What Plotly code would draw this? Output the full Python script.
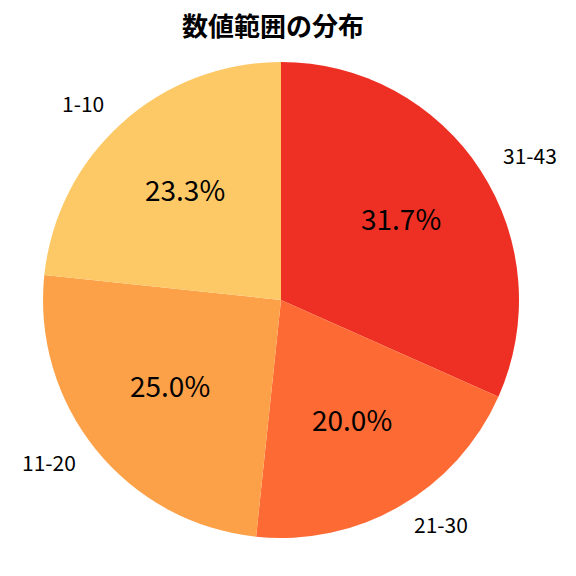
import plotly.graph_objs as go
import numpy as np

# value ranges and how many numbers fell into each
labels = ['31-43', '21-30', '11-20', '1-10']
counts = [19, 12, 15, 14]
colors = ['#EE3024', '#FD6A33', '#FCA148', '#FDC966']

W = H = 576
off = 8  # page body margin
cx, cy, r = 281 - off, 300 - off, 238  # pie centre / radius in pixels

fig = go.Figure()

fig.add_trace(go.Pie(
    labels=labels,
    values=counts,
    sort=False,
    direction='clockwise',
    rotation=0,
    textinfo='none',
    hoverinfo='label+percent',
    marker=dict(colors=colors, line=dict(width=0)),
    domain=dict(x=[(cx - r) / W, (cx + r) / W], y=[1 - (cy + r) / H, 1 - (cy - r) / H]),
    showlegend=False,
))

# label + percentage annotations, matplotlib-style (1.1 r outside, 0.6 r inside)
total = sum(counts)
start = 90.0
annotations = []
for lab, c in zip(labels, counts):
    span = c / total * 360
    mid = np.radians(start - span / 2)
    start -= span
    dx, dy = np.cos(mid), np.sin(mid)
    lx, ly = cx + 1.1 * r * dx, cy - 1.1 * r * dy - 2.5
    annotations.append(dict(
        x=lx / W, y=1 - ly / H, xref='paper', yref='paper',
        text=lab, showarrow=False,
        xanchor='left' if dx > 0 else 'right', yanchor='middle',
        font=dict(size=21, color='black'),
    ))
    px, py = cx + 0.6 * r * dx, cy - 0.6 * r * dy - 4.5
    annotations.append(dict(
        x=px / W, y=1 - py / H, xref='paper', yref='paper',
        text=f'{c / total * 100:.1f}%', showarrow=False,
        xanchor='center', yanchor='middle',
        font=dict(size=28, color='black'),
    ))

fig.update_layout(
    title=dict(text='<b>数値範囲の分布</b>', x=(273 - off) / W, xanchor='center',
               y=1 - (27 - off) / H, yanchor='middle',
               font=dict(size=26, color='black')),
    font=dict(family='Noto Sans CJK JP'),
    annotations=annotations,
    margin=dict(l=0, r=0, t=0, b=0),
    paper_bgcolor='white',
    width=W,
    height=H,
)

fig.write_html("out.html")
